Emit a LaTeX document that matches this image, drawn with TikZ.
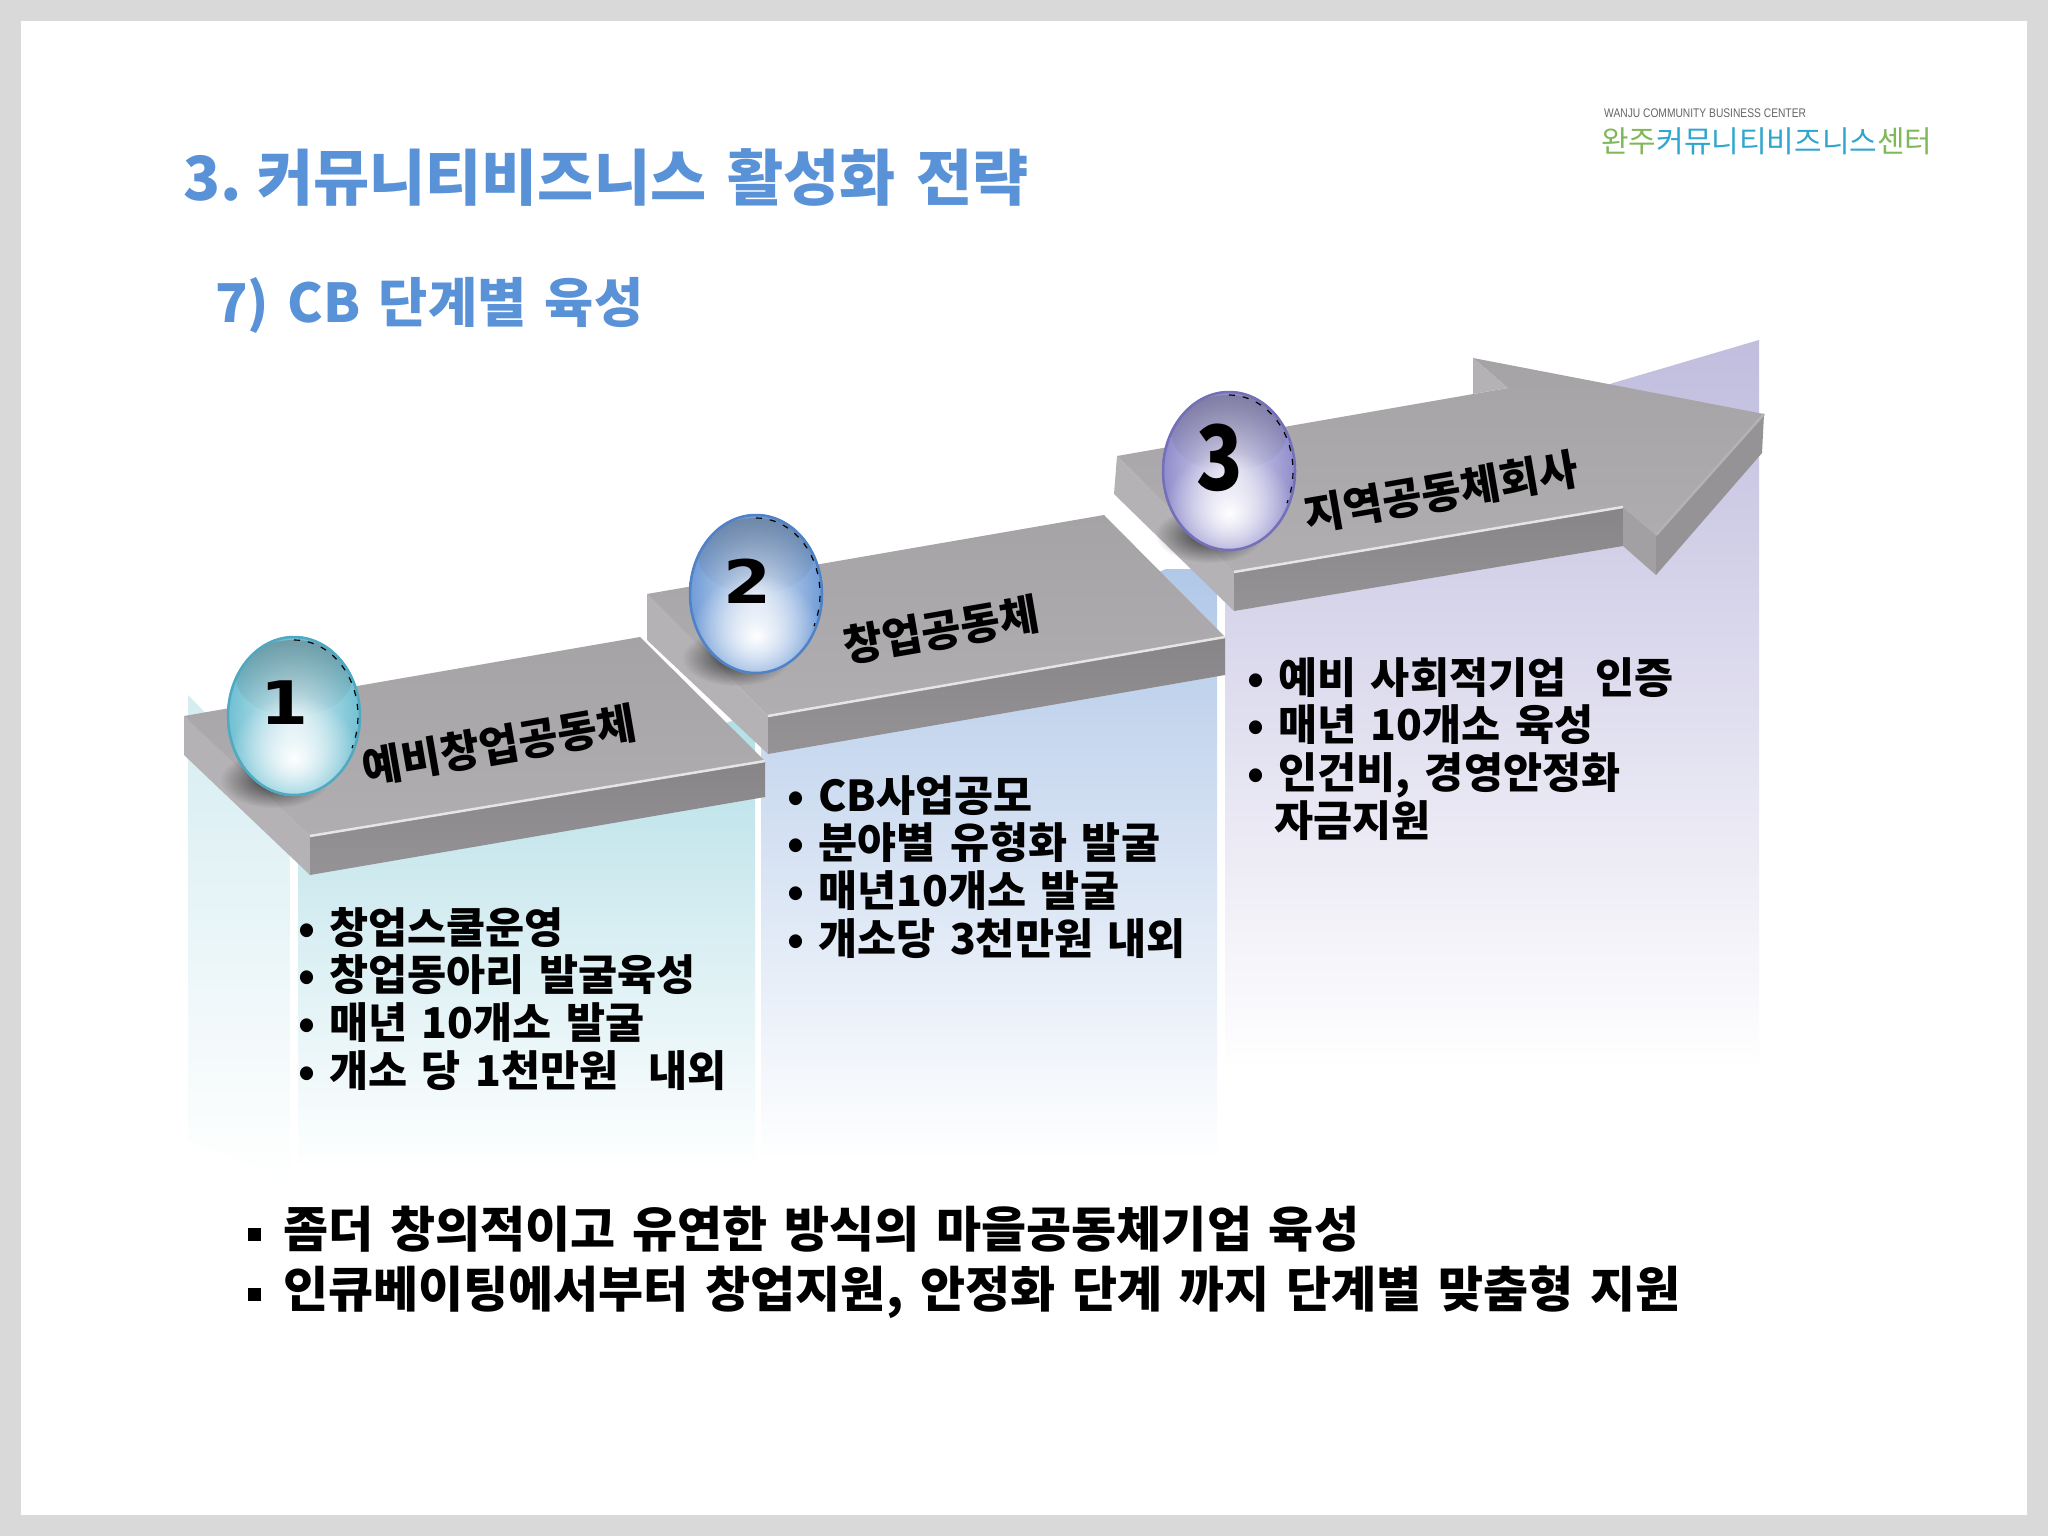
\documentclass[tikz,border=0pt]{standalone}
\usepackage{fontspec}
\setmainfont{Noto Sans CJK KR}[WordSpace=1.5]
\newfontfamily\dejavub{DejaVu Sans}[BoldFont={DejaVu Sans Bold}]
\newfontfamily\latinlogo{Liberation Sans}
\usetikzlibrary{fadings}
\definecolor{frame}{HTML}{D9D9D9}
\definecolor{titleblue}{HTML}{5A92D8}
\definecolor{steptopa}{HTML}{A5A3A5}
\definecolor{steptopb}{HTML}{B0AEB0}
\definecolor{stepside}{HTML}{B4B2B4}
\definecolor{stepfronta}{HTML}{878587}
\definecolor{stepfrontb}{HTML}{959395}
\definecolor{stepedge}{HTML}{E6E5E6}
\definecolor{logogreen}{HTML}{7FB858}
\definecolor{logoblue}{HTML}{2FA6CF}
\definecolor{colA}{HTML}{B5DFE7}
\definecolor{colAl}{HTML}{D5ECF1}
\definecolor{colB}{HTML}{B1C8E8}
\definecolor{colC}{HTML}{C0BDDE}
\definecolor{orbA}{HTML}{6FBFD2}
\definecolor{orbB}{HTML}{6F9BD6}
\definecolor{orbC}{HTML}{8F8BCB}
\definecolor{rimA}{HTML}{4FA9C2}
\definecolor{rimB}{HTML}{4F82C6}
\definecolor{rimC}{HTML}{7470B8}
\tikzfading[name=softglow, inner color=transparent!0, outer color=transparent!100]
\tikzset{
  x=1pt,y=-1pt,
  toptext/.style={anchor=west,inner sep=0pt,text=titleblue,font=\bfseries\fontsize{#1}{#1}\selectfont},
  listtext/.style={anchor=north west,inner sep=0pt,align=left,font=\bfseries\fontsize{42.5}{47.7}\selectfont},
  foottext/.style={anchor=west,inner sep=0pt,font=\bfseries\fontsize{49}{49}\selectfont},
  steplabel/.style={inner sep=0pt,rotate=9.8,font=\bfseries\fontsize{43}{43}\selectfont},
  topface/.style={top color=steptopa,bottom color=steptopb},
  sideface/.style={fill=stepside},
  frontface/.style={top color=stepfronta,bottom color=stepfrontb},
  edgeline/.style={draw=stepedge,line width=2.5pt},
}
\newcommand{\orb}[6]{%
  \fill[black,opacity=.7,path fading=softglow] (#2-20,#3+64) ellipse (54 and 28);
  \begin{scope}
    \clip (#2,#3) ellipse (67 and 80);
    \shade[inner color=#4!25!white,outer color=#4] (#2,#3) ellipse (67 and 80);
    \fill[white,path fading=softglow] (#2,#3+42) ellipse (66 and 62);
    \fill[black!60,opacity=.4,path fading=south] (#2,#3-38) ellipse (58 and 38);
  \end{scope}
  \draw[#5,line width=2.5pt] (#2,#3) ellipse (66 and 79);
  \draw[black,line width=1.2pt,dash pattern=on 6pt off 8pt] (#2,#3-76) arc[start angle=-90,end angle=25,x radius=64,y radius=76];
  \node[inner sep=0pt] (#1) at (#2-9,#3-13) {#6};
}
\newcommand{\bl}{\makebox[31pt][l]{•}}
\newcommand{\sq}{\makebox[35pt][l]{\raisebox{6pt}{\rule{13pt}{13pt}}}}
\begin{document}
\begin{tikzpicture}
\useasboundingbox (0,0) rectangle (2048,1536);
\fill[frame] (0,0) rectangle (2048,1536);
\fill[white] (21,21) rectangle (2027,1515);

% columns behind the steps
\begin{scope}
  \clip (1225,560) -- (1613,383) -- (1759,340) -- (1759,1070) -- (1225,1070) -- cycle;
  \shade[top color=colC,middle color=colC!65!white,bottom color=white] (1225,340) rectangle (1759,1070);
\end{scope}
\begin{scope}
  \clip (1166,569) -- (1217,569) -- (1217,1160) -- (761,1160) -- (761,740) -- cycle;
  \shade[top color=colB,middle color=colB!70!white,bottom color=white] (761,569) rectangle (1217,1160);
\end{scope}
\begin{scope}
  \clip (735,720) -- (755,740) -- (755,1170) -- (298,1170) -- (298,860) -- cycle;
  \shade[top color=colA,middle color=colA!70!white,bottom color=white] (298,720) rectangle (755,1170);
\end{scope}
\begin{scope}
  \clip (188,695) -- (290,800) -- (290,1180) -- (188,1140) -- cycle;
  \shade[top color=colAl,bottom color=white] (188,695) rectangle (290,1180);
\end{scope}

% step 3: the arrow
\fill[sideface] (1117,456) -- (1234,572) -- (1234,611) -- (1114,494) -- cycle;
\shade[frontface] (1234,572) -- (1623,507) -- (1623,546) -- (1234,611) -- cycle;
\fill[stepside!90!black] (1623,507) -- (1656,535) -- (1656,575) -- (1623,546) -- cycle;
\fill[stepfrontb] (1656,535) -- (1764,414) -- (1762,453) -- (1656,575) -- cycle;
\shade[topface] (1117,456) -- (1508,388) -- (1473,358) -- (1764,414) -- (1656,535) -- (1623,507) -- (1234,572) -- cycle;
\fill[stepside] (1473,358) -- (1508,388) -- (1473,394) -- cycle;
\draw[edgeline] (1234,572) -- (1623,507);
\draw[stepside,line width=2.5pt] (1656,535) -- (1764,414);

% step 2
\fill[sideface] (647,594) -- (768,716) -- (768,754) -- (647,640) -- cycle;
\shade[frontface] (768,716) -- (1225,637) -- (1225,675) -- (768,754) -- cycle;
\shade[topface] (647,594) -- (1104,515) -- (1225,637) -- (768,716) -- cycle;
\draw[edgeline] (768,716) -- (1225,637);

% step 1
\fill[sideface] (184,716) -- (310,836) -- (310,875) -- (184,755) -- cycle;
\shade[frontface] (310,836) -- (765,761) -- (765,797) -- (310,875) -- cycle;
\shade[topface] (184,716) -- (640,637) -- (765,761) -- (310,836) -- cycle;
\draw[edgeline] (310,836) -- (765,761);

% orbs
\orb{orbone}{294}{716}{orbA}{rimA}{\dejavub\bfseries\fontsize{60}{60}\selectfont\scalebox{1.15}[1]{1}}
\orb{orbtwo}{756}{594}{orbB}{rimB}{\dejavub\bfseries\fontsize{60}{60}\selectfont\scalebox{1.15}[1]{2}}
\orb{orbthree}{1229}{471}{orbC}{rimC}{\bfseries\fontsize{90}{90}\selectfont\scalebox{.85}[1]{3}}

% title
\node[toptext=61] (maintitle) at (183,178) {3.\hspace{-10pt} 커뮤니티비즈니스 활성화 전략};
\node[toptext=53.5] (subtitle) at (215,305) {7) CB 단계별 육성};

% logo
\node[anchor=west,inner sep=0pt,text=black!60,font=\latinlogo\fontsize{12.5}{12.5}\selectfont] (logoen) at (1604,113) {\scalebox{.82}[1]{WANJU COMMUNITY BUSINESS CENTER}};
\node[anchor=west,inner sep=0pt,font=\fontsize{30}{30}\selectfont] (logokr) at (1601,141) {\textcolor{logogreen}{완주}\textcolor{logoblue}{커뮤니티비즈니스}\textcolor{logogreen}{센터}};

% step labels
\node[steplabel] (labelone) at (499,745) {예비창업공동체};
\node[steplabel] (labeltwo) at (941,630) {창업공동체};
\node[steplabel] (labelthree) at (1441,492) {지역공동체회사};

% lists
\node[listtext] (listone) at (298,907) {\bl 창업스쿨운영\\\bl 창업동아리 발굴육성\\\bl 매년 10개소 발굴\\\bl 개소 당 1천만원\ \ 내외};
\node[listtext] (listtwo) at (787,775) {\bl CB사업공모\\\bl 분야별 유형화 발굴\\\bl 매년10개소 발굴\\\bl 개소당 3천만원 내외};
\node[listtext] (listthree) at (1247,657) {\bl 예비 사회적기업\ \ 인증\\\bl 매년 10개소 육성\\\bl 인건비, 경영안정화\\\hspace*{27pt}자금지원};

% footer
\node[foottext] (footone) at (248,1229) {\sq 좀더 창의적이고 유연한 방식의 마을공동체기업 육성};
\node[foottext] (foottwo) at (248,1292) {\sq 인큐베이팅에서부터 창업지원, 안정화 단계 까지 단계별 맞춤형 지원};
\end{tikzpicture}
\end{document}
